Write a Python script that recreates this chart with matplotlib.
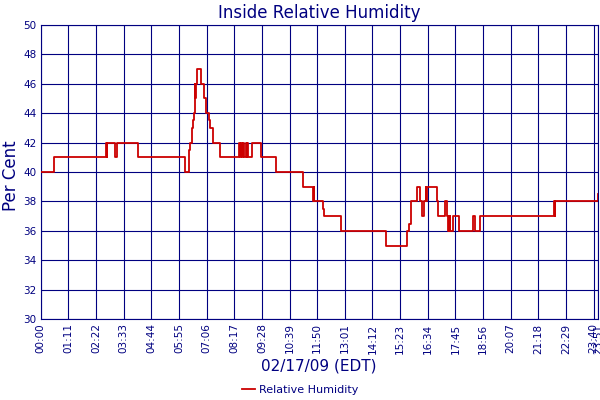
import matplotlib
matplotlib.use("Agg")
import matplotlib.pyplot as plt

# minutes after midnight where the reading changes, and the reading from there on
minutes = [0, 35, 167, 168, 169, 170, 171, 192, 195, 249, 371, 382, 384, 388, 392, 394,
           396, 397, 398, 399, 400, 402, 412, 419, 424, 431, 436, 443, 461,
           510, 512, 514, 517, 520, 523, 526, 529, 531, 533, 543, 567, 603, 674,
           700, 701, 702, 726, 728, 772, 888, 941, 947, 950, 967, 975, 980, 985,
           989, 990, 991, 992, 993, 1017, 1021, 1038, 1043, 1047, 1048, 1049, 1050,
           1051, 1058, 1075, 1111, 1115, 1127, 1319, 1320, 1321, 1430, 1431]
humidity = [40, 41, 42, 41, 42, 41, 42, 41, 42, 41, 40, 41.5, 42, 43, 43.5, 44,
            46, 45, 46, 45, 46, 47, 46, 45, 44, 43.5, 43, 42, 41,
            42, 41, 42, 41, 42, 41, 42, 41, 42, 41, 42, 41, 40, 39,
            38, 39, 38, 37.5, 37, 36, 35, 36, 36.5, 38, 39, 38, 37, 38,
            39, 38, 39, 38, 39, 38, 37, 38, 37, 36, 37, 36, 37,
            36, 37, 36, 37, 36, 37, 38, 37, 38, 38.5, 38.5]

tick_minutes = [0, 71, 142, 213, 284, 355, 426, 497, 568, 639, 710, 781, 852, 923,
                994, 1065, 1136, 1207, 1278, 1349, 1420, 1431]
tick_labels = ["00:00", "01:11", "02:22", "03:33", "04:44", "05:55", "07:06", "08:17",
               "09:28", "10:39", "11:50", "13:01", "14:12", "15:23", "16:34", "17:45",
               "18:56", "20:07", "21:18", "22:29", "23:40", "23:51"]
y_ticks = [30, 32, 34, 36, 38, 40, 42, 44, 46, 48, 50]

navy = "#000080"
red = "#cc0000"

fig = plt.figure(figsize=(6, 4), dpi=100)
ax = fig.add_axes([0.0678, 0.2018, 0.9288, 0.7365])

ax.step(minutes, humidity, where="post", color=red, linewidth=1.3,
        label="Relative Humidity", zorder=3)

ax.set_xlim(0, 1431)
ax.set_ylim(30, 50)
ax.set_xticks(tick_minutes)
ax.set_xticklabels(tick_labels, rotation=90, fontsize=7.5, color=navy)
ax.set_yticks(y_ticks)
ax.set_yticklabels([str(v) for v in y_ticks], fontsize=7.5, color=navy)
ax.tick_params(length=0, pad=3)
ax.grid(True, color=navy, linewidth=0.8)
for s in ax.spines.values():
    s.set_color(navy)
    s.set_linewidth(0.8)

ax.set_title("Inside Relative Humidity", fontsize=12, color=navy, pad=5)
fig.text(0.532, 1 - 366 / 400, "02/17/09 (EDT)", fontsize=11, color=navy,
         ha="center", va="center")
fig.text(0.018, 1 - 176 / 400, "Per Cent", fontsize=12, color=navy,
         rotation=90, ha="center", va="center")

leg = fig.legend(loc="center", bbox_to_anchor=(0.5, 1 - 390 / 400), frameon=False,
                 fontsize=8, handlelength=1.2, handletextpad=0.3)
for t in leg.get_texts():
    t.set_color(navy)

fig.savefig("out.png", dpi=100)
